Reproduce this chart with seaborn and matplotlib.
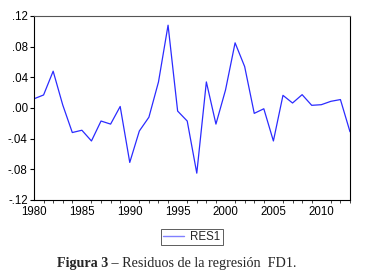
import matplotlib
matplotlib.use("Agg")
import matplotlib.pyplot as plt
import seaborn as sns
import pandas as pd
from matplotlib.ticker import MultipleLocator, FuncFormatter

years = list(range(1980, 2014))
res1 = [0.012, 0.017, 0.048, 0.004, -0.032, -0.029, -0.043, -0.017, -0.021, 0.002,
        -0.071, -0.030, -0.012, 0.034, 0.108, -0.004, -0.017, -0.085, 0.034, -0.021,
        0.0235, 0.085, 0.054, -0.007, -0.001, -0.043, 0.0165, 0.0065, 0.0174, 0.0035,
        0.0043, 0.0087, 0.011, -0.031]
yticks = [-0.12, -0.08, -0.04, 0.00, 0.04, 0.08, 0.12]
xticks = [1980, 1985, 1990, 1995, 2000, 2005, 2010]
caption_bold = "Figura 3"
caption_rest = " – Residuos de la regresión  FD1."

df = pd.DataFrame({"year": years, "RES1": res1})

sns.set_style("white")
plt.rcParams['font.family'] = ['Liberation Sans', 'DejaVu Sans']

fig = plt.figure(figsize=(3.65, 2.79), dpi=100)
ax = fig.add_axes([34/365, 1-200/279, (350-34)/365, (200-16)/279])
sns.lineplot(data=df, x="year", y="RES1", ax=ax, color="#2b2bff", linewidth=0.9, label="RES1")

ax.set_xlim(1980, 2013)
ax.set_ylim(-0.12, 0.12)
ax.set_yticks(yticks)
ax.set_xticks(xticks)
ax.xaxis.set_minor_locator(MultipleLocator(1))

def yfmt(v, pos):
    s = f"{v:.2f}"
    s = s.replace("0.", ".")
    if s == "-.00":
        s = ".00"
    return s
ax.yaxis.set_major_formatter(FuncFormatter(yfmt))
ax.set_xlabel("")
ax.set_ylabel("")
ax.tick_params(axis="both", which="major", direction="out", length=3, width=0.8,
               labelsize=8.3, colors="black", pad=1.5)
ax.tick_params(axis="x", which="minor", direction="out", length=2, width=0.6, bottom=True)
ax.tick_params(axis="y", left=True)
for s in ax.spines.values():
    s.set_visible(True)
    s.set_color("black")
    s.set_linewidth(0.8)
ax.spines["top"].set_color("#555555")

leg = ax.legend(loc="upper center", bbox_to_anchor=(0.5, -0.155), frameon=True,
                fontsize=8.3, handlelength=1.8, borderpad=0.2, fancybox=False,
                handletextpad=0.55, borderaxespad=0)
leg.get_frame().set_edgecolor("#333333")
leg.get_frame().set_linewidth(0.7)
for ln in leg.get_lines():
    ln.set_color("#8080ff")
    ln.set_linewidth(1.0)

ycap = 1 - 264/279
t1 = fig.text(57/365, ycap, caption_bold, fontsize=10.2, fontweight="bold",
              family=["Liberation Serif"], ha="left", va="center")
fig.canvas.draw()
bb = t1.get_window_extent(renderer=fig.canvas.get_renderer())
fig.text(bb.x1 / fig.bbox.width, ycap, caption_rest, fontsize=10.2,
         family=["Liberation Serif"], ha="left", va="center")

fig.savefig("out.png", dpi=100)
